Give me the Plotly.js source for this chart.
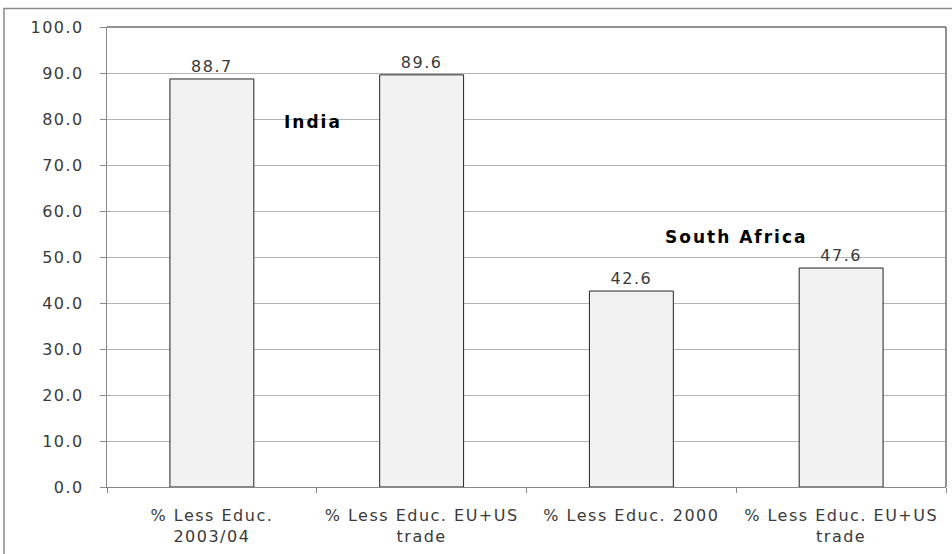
<!DOCTYPE html>
<html>
<head>
<meta charset="utf-8">
<script src="https://cdn.plot.ly/plotly-3.0.1.min.js"></script>
<style>
  html, body { margin: 0; padding: 0; background: #fff; }
  #chart { width: 952px; height: 554px; }
  /* wide, airy lettering for every label in the chart */
  text { letter-spacing: 1.5px; }
  .annotation-text { letter-spacing: 2px; }
</style>
</head>
<body>
<div id="chart"></div>
<script>
// Share of less-educated workers, India and South Africa
const categories = [
  "% Less Educ.<br>2003/04",
  "% Less Educ. EU+US<br>trade",
  "% Less Educ. 2000",
  "% Less Educ. EU+US<br>trade"
];
const categoryKeys = ["c1", "c2", "c3", "c4"];
const shares = [88.7, 89.6, 42.6, 47.6];
const yTicks = [0, 10, 20, 30, 40, 50, 60, 70, 80, 90, 100];
const yTickLabels = yTicks.map(v => v.toFixed(1));
const countryLabels = ["India", "South Africa"];

const font = "'DejaVu Sans', sans-serif";
const textColor = "#3a3a3a";

const trace = {
  type: "bar",
  x: categoryKeys,
  y: shares,
  text: shares.map(v => v.toFixed(1)),
  textposition: "outside",
  textfont: { family: font, size: 16, color: textColor },
  cliponaxis: false,
  marker: { color: "#f2f2f2", line: { color: "#222", width: 1 } },
  hoverinfo: "none",
  width: 0.4
};

const layout = {
  width: 952,
  height: 554,
  margin: { l: 107, r: 6, t: 27, b: 67 },
  paper_bgcolor: "#fff",
  plot_bgcolor: "#fff",
  showlegend: false,
  font: { family: font, size: 16, color: textColor },
  xaxis: {
    type: "category",
    tickvals: categoryKeys,
    ticktext: categories,
    tickson: "boundaries",
    ticks: "outside",
    ticklen: 5,
    tickcolor: "#888",
    showline: true,
    linecolor: "#888",
    linewidth: 1,
    showgrid: false,
    ticklabelstandoff: 14,
    tickfont: { family: font, size: 16, color: textColor },
    fixedrange: true
  },
  yaxis: {
    range: [0, 100],
    tickvals: yTicks,
    ticktext: yTickLabels,
    ticks: "outside",
    ticklen: 6,
    tickcolor: "#888",
    showline: true,
    linecolor: "#888",
    linewidth: 1,
    showgrid: true,
    gridcolor: "#b4b4b4",
    gridwidth: 1,
    zeroline: false,
    ticklabelstandoff: 13,
    tickfont: { family: font, size: 16, color: textColor },
    fixedrange: true
  },
  annotations: [
    { text: "<b>" + countryLabels[0] + "</b>", xref: "x", yref: "y", x: 0.48, y: 79.3,
      showarrow: false, font: { family: font, size: 17, color: "#000" } },
    { text: "<b>" + countryLabels[1] + "</b>", xref: "x", yref: "y", x: 2.5, y: 54.3,
      showarrow: false, font: { family: font, size: 17, color: "#000" } }
  ],
  shapes: [
    // frame drawn around the whole chart
    { type: "rect", xref: "paper", yref: "paper", x0: -0.1228, x1: 1.02, y0: -0.2, y1: 1.0402,
      line: { color: "#8a8a8a", width: 1.5 }, fillcolor: "rgba(0,0,0,0)", layer: "below" },
    // top and right edges of the plot area
    { type: "line", xref: "paper", yref: "paper", x0: 0, x1: 1, y0: 1, y1: 1,
      line: { color: "#6e6e6e", width: 1.5 } },
    { type: "line", xref: "paper", yref: "paper", x0: 1, x1: 1, y0: 0, y1: 1,
      line: { color: "#6e6e6e", width: 1.5 } }
  ]
};

Plotly.newPlot("chart", [trace], layout, { staticPlot: true, displayModeBar: false });
</script>
</body>
</html>
